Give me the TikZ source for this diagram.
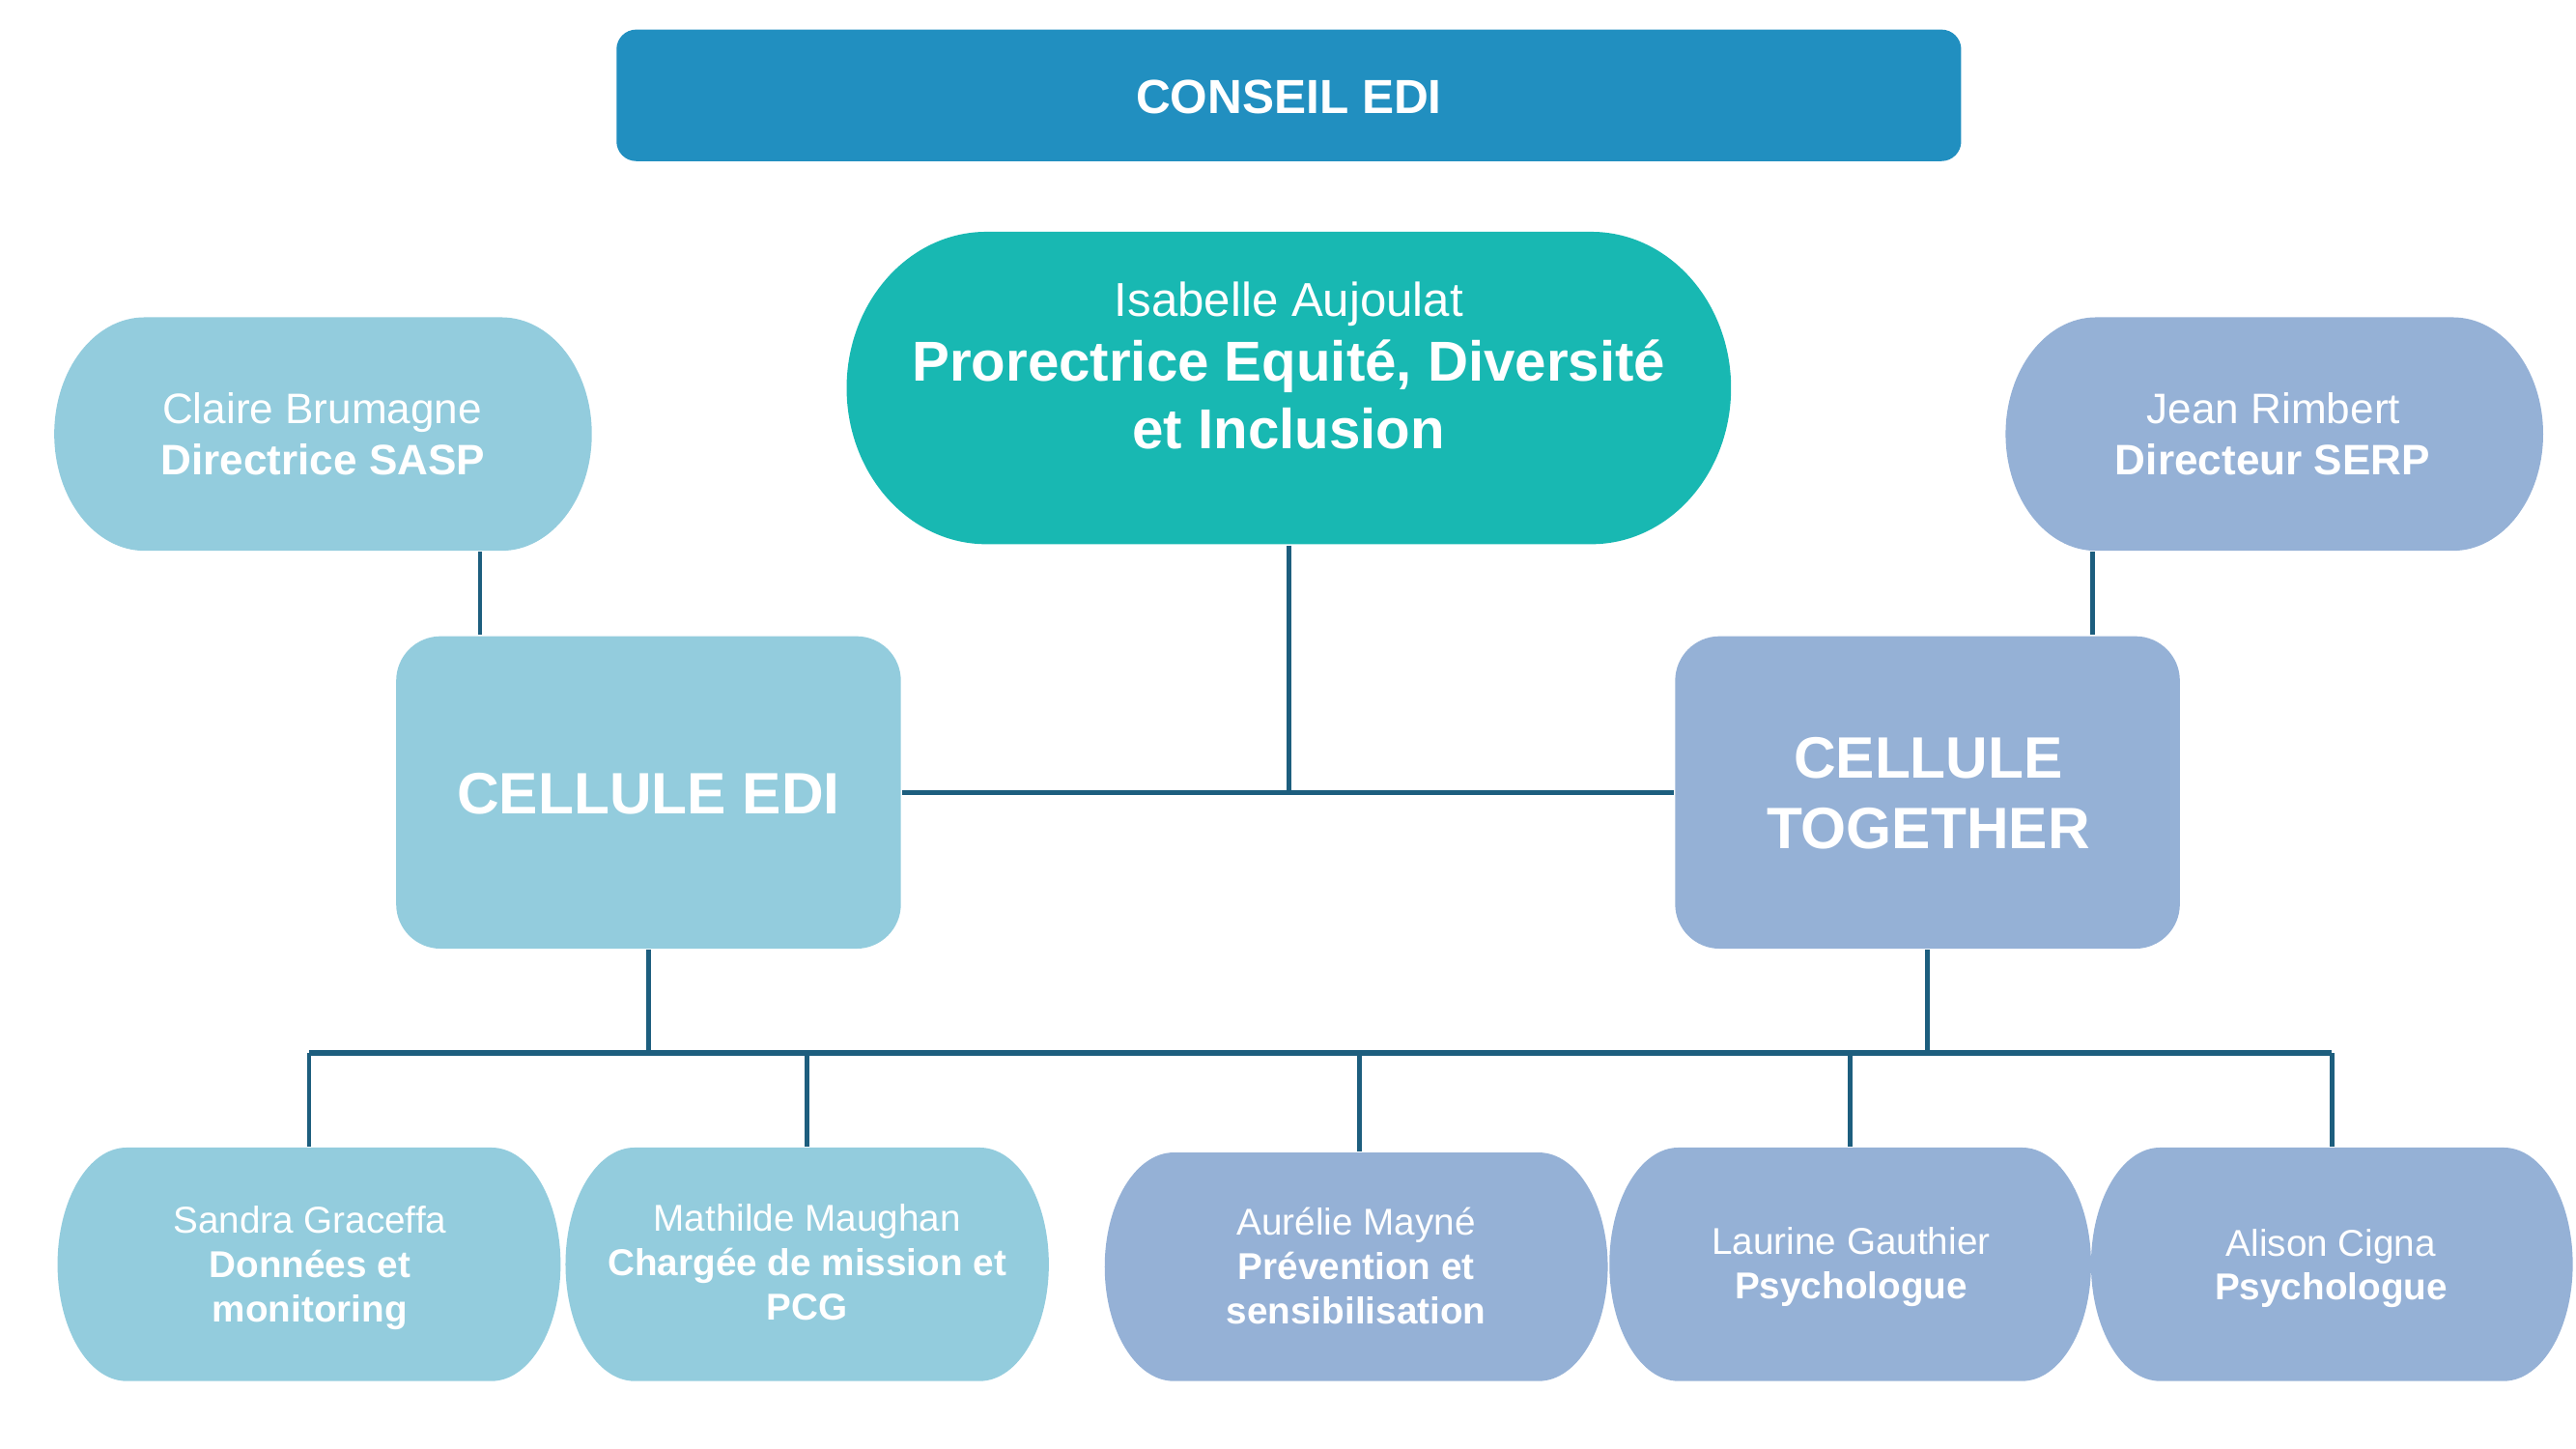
\documentclass[tikz,border=0pt]{standalone}
\usepackage{fontspec}
\setmainfont{Liberation Sans}
\usetikzlibrary{fit}
\definecolor{cConseil}{RGB}{33,143,192}
\definecolor{cTeal}{RGB}{24,184,178}
\definecolor{cLight}{RGB}{147,204,221}
\definecolor{cGray}{RGB}{149,177,214}
\definecolor{cLine}{RGB}{29,94,126}
\newcommand\pillbox[7]{%
  \fill[#7] ({#2+#6},#3) -- ({#4-#6},#3)
    arc[start angle=-90, end angle=90, x radius=#6, y radius={(#5-#3)/2}]
    -- ({#2+#6},#5)
    arc[start angle=90, end angle=270, x radius=#6, y radius={(#5-#3)/2}] -- cycle;
  \node[frame, fit={(#2,#3) (#4,#5)}] (#1) {};}
\newcommand\fConseil{\fontsize{8.28}{10}\selectfont\bfseries}
\newcommand\fIsaR{\fontsize{8.22}{10}\selectfont}
\newcommand\fIsaB{\fontsize{9.73}{11.7}\selectfont\bfseries}
\newcommand\fDirR{\fontsize{7.37}{9}\selectfont}
\newcommand\fDirB{\fontsize{7.37}{9}\selectfont\bfseries}
\newcommand\fCell{\fontsize{10.1}{12}\selectfont\bfseries}
\newcommand\fBotR{\fontsize{6.46}{7.8}\selectfont}
\newcommand\fBotB{\fontsize{6.46}{7.8}\selectfont\bfseries}
\begin{document}
\begin{tikzpicture}[x=0.01cm, y=-0.01cm,
  frame/.style={inner sep=0pt, draw=none},
  txt/.style={text=white, inner sep=0pt, anchor=base},
  conn/.style={draw=cLine, line width=0.8pt},
  hline/.style={draw=cLine, line width=0.9pt}]
\useasboundingbox (0,0) rectangle (1567,881.3);

% ---- boxes ----
\node[frame, fill=cConseil, rounded corners=0.12cm, fit={(375,18) (1193,98)}] (conseil) {};
\pillbox{isab}{515}{141}{1053}{331}{85}{cTeal}
\pillbox{claire}{33}{193}{360}{335}{55}{cLight}
\pillbox{jean}{1220}{193}{1547}{335}{55}{cGray}
\node[frame, fill=cLight, rounded corners=0.27cm, fit={(241,387) (548,577)}] (cedi) {};
\node[frame, fill=cGray, rounded corners=0.27cm, fit={(1019,387) (1326,577)}] (ctog) {};
\pillbox{sandra}{35}{698}{341}{840}{42}{cLight}
\pillbox{mathilde}{344}{698}{638}{840}{42}{cLight}
\pillbox{aurelie}{672}{701}{978}{840}{42}{cGray}
\pillbox{laurine}{979}{698}{1272}{840}{42}{cGray}
\pillbox{alison}{1272}{698}{1565}{840}{42}{cGray}

% ---- texts ----
\node[txt, font=\fConseil] (conseil-t) at (784,69) {CONSEIL EDI};
\node[txt, font=\fIsaR] (isab-1) at (784,192.3) {Isabelle Aujoulat};
\node[txt, font=\fIsaB] (isab-2) at (784,232) {Prorectrice Equité, Diversité};
\node[txt, font=\fIsaB] (isab-3) at (784,273) {et Inclusion};
\node[txt, font=\fDirR] (claire-1) at (196,257.5) {Claire Brumagne};
\node[txt, font=\fDirB] (claire-2) at (196.5,289) {Directrice SASP};
\node[txt, font=\fDirR] (jean-1) at (1383,257.5) {Jean Rimbert};
\node[txt, font=\fDirB] (jean-2) at (1382.5,289) {Directeur SERP};
\node[txt, font=\fCell] (cedi-t) at (394.5,495) {CELLULE EDI};
\node[txt, font=\fCell] (ctog-1) at (1173,473.5) {CELLULE};
\node[txt, font=\fCell] (ctog-2) at (1173,516) {TOGETHER};
\node[txt, font=\fBotR] (sandra-1) at (188.5,750) {Sandra Graceffa};
\node[txt, font=\fBotB] (sandra-2) at (188.5,777) {Données et};
\node[txt, font=\fBotB] (sandra-3) at (188.5,804) {monitoring};
\node[txt, font=\fBotR] (mathilde-1) at (491,749) {Mathilde Maughan};
\node[txt, font=\fBotB] (mathilde-2) at (491,776) {Chargée de mission et};
\node[txt, font=\fBotB] (mathilde-3) at (491,803) {PCG};
\node[txt, font=\fBotR] (aurelie-1) at (825,751) {Aurélie Mayné};
\node[txt, font=\fBotB] (aurelie-2) at (825,778) {Prévention et};
\node[txt, font=\fBotB] (aurelie-3) at (825,805) {sensibilisation};
\node[txt, font=\fBotR] (laurine-1) at (1126,763) {Laurine Gauthier};
\node[txt, font=\fBotB] (laurine-2) at (1126,790) {Psychologue};
\node[txt, font=\fBotR] (alison-1) at (1418,764) {Alison Cigna};
\node[txt, font=\fBotB] (alison-2) at (1418,790.5) {Psychologue};

% ---- connectors ----
\coordinate (clx) at (292,0);
\coordinate (jnx) at (1273,0);
\coordinate (aux) at (827,0);
\coordinate (busy) at (0,640.5);
\draw[conn] (isab.south) -- (isab.south |- cedi.east);
\draw[hline] (cedi.east) -- (ctog.west);
\draw[conn] (claire.south -| clx) -- (cedi.north -| clx);
\draw[conn] (jean.south -| jnx) -- (ctog.north -| jnx);
\draw[conn] (cedi.south) -- (cedi.south |- busy);
\draw[conn] (ctog.south) -- (ctog.south |- busy);
\draw[hline] (sandra.north |- busy) -- (alison.north |- busy);
\draw[conn] (sandra.north |- busy) -- (sandra.north);
\draw[conn] (mathilde.north |- busy) -- (mathilde.north);
\draw[conn] (aux |- busy) -- (aurelie.north -| aux);
\draw[conn] (laurine.north |- busy) -- (laurine.north);
\draw[conn] (alison.north |- busy) -- (alison.north);
\end{tikzpicture}
\end{document}
